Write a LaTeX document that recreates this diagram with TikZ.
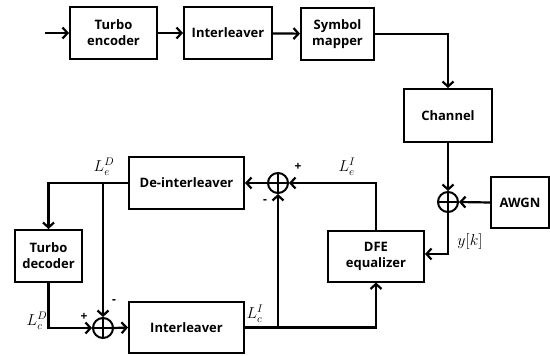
\documentclass[tikz,border=0pt]{standalone}
\usepackage{fontspec}
\setmainfont{Open Sans}
\usetikzlibrary{arrows.meta}
\begin{document}
\begin{tikzpicture}[x=1pt,y=-1pt,
  blk/.style={draw,line width=2pt,minimum width=#1,align=center,inner sep=0pt,
    font=\fontsize{13}{16}\selectfont\bfseries},
  summer/.style={draw,circle,line width=2pt,minimum size=20pt,inner sep=0pt,
    path picture={\draw[line width=1.8pt] (path picture bounding box.north) -- (path picture bounding box.south)
      (path picture bounding box.west) -- (path picture bounding box.east);}},
  conn/.style={line width=2.2pt,-{Straight Barb[length=5pt,width=11pt,line width=2.2pt]}},
  lbl/.style={font=\fontsize{14}{16}\selectfont,inner sep=0pt},
  sgn/.style={font=\fontsize{12}{12}\selectfont\bfseries,inner sep=0pt}
]
\useasboundingbox (0,0) rectangle (550,356);
\node[blk=87pt,minimum height=52pt] (te) at (113.5,33) {Turbo\\encoder};
\node[blk=88pt,minimum height=52pt] (il1) at (228,33) {Interleaver};
\node[blk=73pt,minimum height=52pt] (sm) at (337.5,34) {Symbol\\mapper};
\node[blk=88pt,minimum height=53pt] (ch) at (448,115.5) {Channel};
\node[blk=58pt,minimum height=51pt] (awgn) at (520,202.5) {AWGN};
\node[summer] (s1) at (448,202) {};
\node[blk=96pt,minimum height=51pt] (dfe) at (376,256) {DFE\\equalizer};
\node[summer] (s2) at (278,183) {};
\node[blk=115pt,minimum height=52pt] (deint) at (186.5,183) {De-interleaver};
\node[blk=67pt,minimum height=52pt] (td) at (48.5,256) {Turbo\\decoder};
\node[summer] (s3) at (103,328) {};
\node[blk=115pt,minimum height=51pt] (il2) at (186.5,327.5) {Interleaver};
\coordinate (in) at (45,33);
\coordinate (j1) at (103,183);
\coordinate (j2) at (278,327.5);
\coordinate (c1) at (448,254);
% connectors
\draw[conn] (in) -- (te.west);
\draw[conn] (te) -- (il1);
\draw[conn] (il1) -- (sm);
\draw[conn] (sm.east) -| (ch.north);
\draw[conn] (ch.south) -- (s1.north);
\draw[conn] (awgn.west) -- (s1.east);
\draw[conn] (s1.south) -- (c1) -- (c1 -| dfe.east);
\draw[conn] (dfe.north) |- (s2.east);
\draw[conn] (s2.west) -- (deint.east);
\draw[conn] (deint.west) -| (td.north);
\draw[conn] (j1) -- (s3.north);
\draw[conn] (td.south) |- (s3.west);
\draw[conn] (s3.east) -- (il2.west);
\draw[conn] (il2.east) -| (dfe.south);
\draw[conn] (j2) -- (s2.south);
% labels
\node[lbl] (lab1) at (104,167) {\scalebox{1.1}{$L_e^D$}};
\node[lbl] (lab2) at (347,167) {\scalebox{1.1}{$L_e^I$}};
\node[lbl] (lab3) at (470,242) {\scalebox{1.1}{$y[k]$}};
\node[lbl] (lab4) at (37,321) {\scalebox{1.1}{$L_c^D$}};
\node[lbl] (lab5) at (255,314) {\scalebox{1.1}{$L_c^I$}};
\node[sgn] (p1) at (298,167) {+};
\node[sgn] (m1) at (265,202) {-};
\node[sgn] (p2) at (84,317) {+};
\node[sgn] (m2) at (114,302) {-};
\end{tikzpicture}
\end{document}
